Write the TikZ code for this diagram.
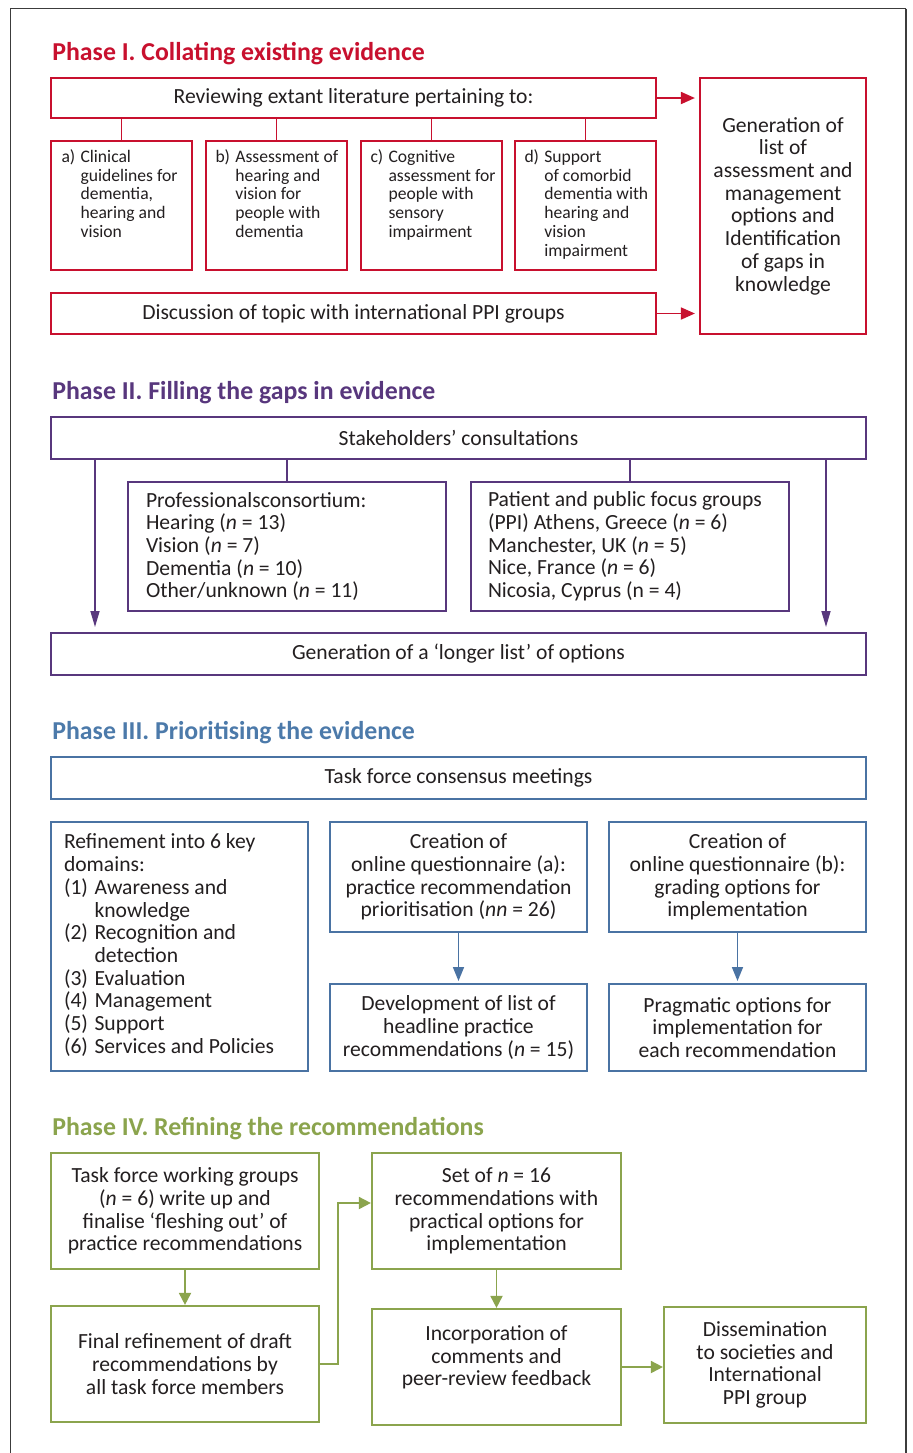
\documentclass[tikz,border=0pt]{standalone}
\usepackage{fontspec}
\setmainfont{Carlito}
\usetikzlibrary{arrows.meta}
\definecolor{red1}{RGB}{200,16,46}
\definecolor{pur1}{RGB}{88,55,125}
\definecolor{blu1}{RGB}{74,115,163}
\definecolor{blh}{RGB}{76,122,170}
\definecolor{grn1}{RGB}{139,164,77}
\definecolor{txt}{RGB}{35,31,32}
\definecolor{frm}{RGB}{60,60,60}
\newcommand\mainsz{\fontsize{10.8}{11.35}\selectfont}
\newcommand\smallsz{\fontsize{8.8}{9.4}\selectfont}
\newcommand\headsz{\fontsize{12.9}{14}\selectfont\bfseries}
\tikzset{
  box/.style={draw, line width=1pt, fill=white, text=txt, inner sep=0pt, align=center, font=\mainsz},
  rbox/.style={box, draw=red1, line width=1.1pt},
  pbox/.style={box, draw=pur1},
  bbox/.style={box, draw=blu1},
  gbox/.style={box, draw=grn1, line width=1.1pt},
  head/.style={font=\headsz, inner sep=0pt, anchor=base west},
  rline/.style={draw=red1, line width=0.9pt},
  pline/.style={draw=pur1, line width=0.8pt},
  rarr/.style={rline, -{Triangle[length=7pt,width=6pt]}, shorten >=2pt},
  parr/.style={pline, -{Triangle[length=8pt,width=4.5pt]}, shorten >=2.5pt},
  barr/.style={draw=blu1, line width=0.8pt, -{Triangle[length=7pt,width=5.5pt]}, shorten >=1pt},
  garr/.style={draw=grn1, line width=0.9pt, -{Triangle[length=6pt,width=6pt]}},
}
\newcommand\hang[1]{\begin{tabular}{@{}l@{\hspace{0.3em}}l@{}}#1\end{tabular}}
\begin{document}
\begin{tikzpicture}[x=0.5pt,y=-0.5pt]
\useasboundingbox (0,0) rectangle (912,1453);
\fill[white] (0,0) rectangle (912,1453);
% frame
\draw[frm, line width=0.8pt] (10.5,1453) -- (10.5,8.5) -- (906,8.5);
\draw[frm, line width=1.2pt] (906,8.5) -- (906,1453);

% ---------------- Phase I
\node[head, text=red1] (h1) at (52,60) {Phase I. Collating existing evidence};
\node[rbox, minimum width=302.5pt, minimum height=20pt] (rev) at (353.5,98) {Reviewing extant literature pertaining to:};
\node[rbox, minimum width=70.5pt, minimum height=64.5pt, font=\smallsz] (a) at (121.5,205.5)
  {\begin{minipage}{60pt}\hang{a) & Clinical\\ & guidelines for\\ & dementia,\\ & hearing and\\ & vision\\ & }\end{minipage}};
\node[rbox, minimum width=70.5pt, minimum height=64.5pt, font=\smallsz] (b) at (276.5,205.5)
  {\begin{minipage}{61pt}\hang{b) & Assessment of\\ & hearing and\\ & vision for\\ & people with\\ & dementia\\ & }\end{minipage}};
\node[rbox, minimum width=70.5pt, minimum height=64.5pt, font=\smallsz] (c) at (431.5,205.5)
  {\begin{minipage}{61pt}\hang{c) & Cognitive\\ & assessment for\\ & people with\\ & sensory\\ & impairment\\ & }\end{minipage}};
\node[rbox, minimum width=70.5pt, minimum height=64.5pt, font=\smallsz] (d) at (585.5,205.5)
  {\begin{minipage}{61pt}\hang{d) & Support\\ & of comorbid\\ & dementia with\\ & hearing and\\ & vision\\ & impairment}\end{minipage}};
\node[rbox, minimum width=302.5pt, minimum height=20.5pt] (disc) at (353.5,313.5) {Discussion of topic with international PPI groups};
\node[rbox, minimum width=83pt, minimum height=128pt] (gen) at (783,206)
  {Generation of\\ list of\\ assessment and\\ management\\ options and\\ Identification\\ of gaps in\\ knowledge};
\foreach \n in {a,b,c,d} \draw[rline] (rev.south -| \n.north) -- (\n.north);
\draw[rarr] (rev.east) -- (rev.east -| gen.west);
\draw[rarr] (disc.east) -- (disc.east -| gen.west);

% ---------------- Phase II
\node[head, text=pur1] (h2) at (52,399) {Phase II. Filling the gaps in evidence};
\node[pbox, minimum width=407.5pt, minimum height=21pt] (stake) at (458.5,438) {Stakeholders’ consultations};
\node[pbox, minimum width=159pt, minimum height=64.5pt] (prof) at (287,546.5)
  {\begin{minipage}{141pt}\raggedright Professionalsconsortium:\\ Hearing (\textit{n} = 13)\\ Vision (\textit{n} = 7)\\ Dementia (\textit{n} = 10)\\ Other/unknown (\textit{n} = 11)\end{minipage}};
\node[pbox, minimum width=159pt, minimum height=64.5pt] (pat) at (630,546.5)
  {\begin{minipage}{142pt}\raggedright Patient and public focus groups\\ (PPI) Athens, Greece (\textit{n} = 6)\\ Manchester, UK (\textit{n} = 5)\\ Nice, France (\textit{n} = 6)\\ Nicosia, Cyprus (n = 4)\end{minipage}};
\node[pbox, minimum width=407.5pt, minimum height=21pt] (lng) at (458.5,654) {Generation of a ‘longer list’ of options};
\draw[pline] (stake.south -| prof.north) -- (prof.north);
\draw[pline] (stake.south -| pat.north) -- (pat.north);
\draw[parr] ([xshift=22.5pt]stake.south west) -- ([xshift=22.5pt]lng.north west);
\draw[parr] ([xshift=-20.5pt]stake.south east) -- ([xshift=-20.5pt]lng.north east);

% ---------------- Phase III
\node[head, text=blh] (h3) at (52,739) {Phase III. Prioritising the evidence};
\node[bbox, minimum width=407.5pt, minimum height=21pt] (task) at (458.5,778) {Task force consensus meetings};
\node[bbox, minimum width=128.5pt, minimum height=124.5pt] (ref) at (179.5,946.5)
  {\begin{minipage}{115.5pt}\begin{tabular}{@{}l@{\hspace{0.3em}}l@{}}\multicolumn{2}{@{}l@{}}{Refinement into 6 key}\\ \multicolumn{2}{@{}l@{}}{domains:}\\ (1) & Awareness and\\ & knowledge\\ (2) & Recognition and\\ & detection\\ (3) & Evaluation\\ (4) & Management\\ (5) & Support\\ (6) & Services and Policies\end{tabular}\end{minipage}};
\node[bbox, minimum width=128.5pt, minimum height=55pt] (qa) at (458.5,877)
  {Creation of\\ online questionnaire (a):\\ practice recommendation\\ prioritisation (\textit{nn} = 26)};
\node[bbox, minimum width=128.5pt, minimum height=55pt] (qb) at (737.5,877)
  {Creation of\\ online questionnaire (b):\\ grading options for\\ implementation};
\node[bbox, minimum width=128.5pt, minimum height=43.5pt] (dev) at (458.5,1027.5)
  {Development of list of\\ headline practice\\ recommendations (\textit{n} = 15)};
\node[bbox, minimum width=128.5pt, minimum height=43.5pt] (prag) at (737.5,1027.5)
  {Pragmatic options for\\ implementation for\\ each recommendation};
\draw[barr] (qa.south) -- (dev.north);
\draw[barr] (qb.south) -- (prag.north);

% ---------------- Phase IV
\node[head, text=grn1] (h4) at (52,1135) {Phase IV. Refining the recommendations};
\node[gbox, minimum width=134pt, minimum height=58pt] (wg) at (185,1211)
  {Task force working groups\\ (\textit{n} = 6) write up and\\ finalise ‘fleshing out’ of\\ practice recommendations};
\node[gbox, minimum width=134pt, minimum height=58pt] (fin) at (185,1364)
  {Final refinement of draft\\ recommendations by\\ all task force members};
\node[gbox, minimum width=124.5pt, minimum height=58pt] (set) at (496.5,1211)
  {Set of \textit{n} = 16\\ recommendations with\\ practical options for\\ implementation};
\node[gbox, minimum width=124.5pt, minimum height=58pt] (inc) at (496.5,1367)
  {Incorporation of\\ comments and\\ peer-review feedback\\ \mbox{}};
\node[gbox, minimum width=101pt, minimum height=58pt] (dis) at (765,1365)
  {Dissemination\\ to societies and\\ International\\ PPI group};
\draw[garr] (wg.south) -- (fin.north);
\draw[garr] (fin.east) -- ++(18,0) |- ([yshift=4pt]set.west);
\draw[garr] (set.south) -- (inc.north);
\draw[garr] (inc.east) -- (inc.east -| dis.west);
\end{tikzpicture}
\end{document}
